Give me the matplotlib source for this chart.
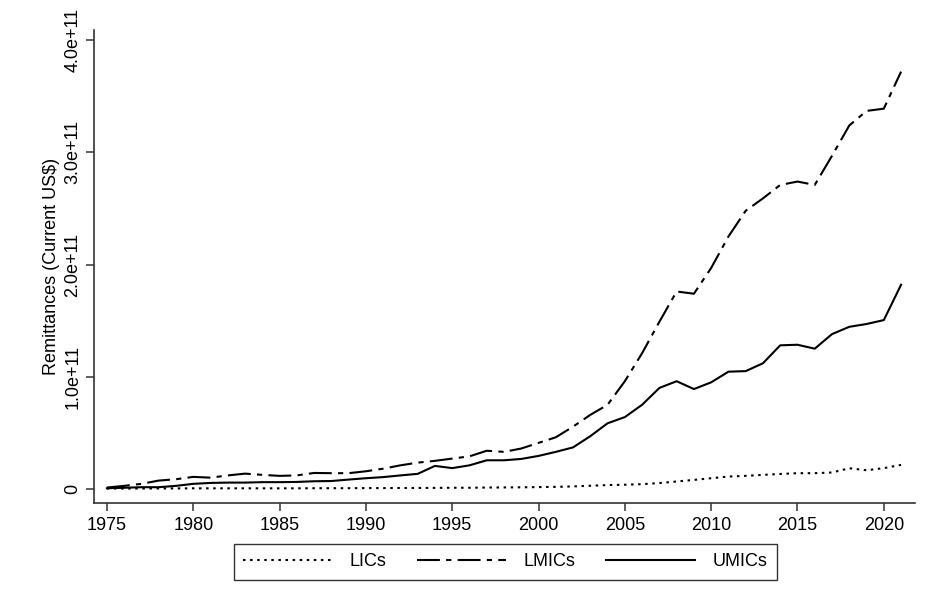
import numpy as np
import matplotlib.pyplot as plt

plt.rcParams['font.family'] = ['Liberation Sans', 'DejaVu Sans']

# Remittances by income group, current US$ (units of 1e11)
years = list(range(1975, 2022))
lics = [0.003, 0.003, 0.003, 0.004, 0.004, 0.005, 0.005, 0.005, 0.005, 0.005,
        0.005, 0.005, 0.006, 0.006, 0.006, 0.007, 0.007, 0.008, 0.008, 0.009,
        0.010, 0.010, 0.012, 0.013, 0.014, 0.016, 0.018, 0.022, 0.028, 0.034,
        0.037, 0.042, 0.052, 0.066, 0.080, 0.095, 0.110, 0.116, 0.125, 0.133,
        0.140, 0.140, 0.146, 0.184, 0.166, 0.185, 0.214]
lmics = [0.012, 0.027, 0.045, 0.074, 0.086, 0.107, 0.100, 0.120, 0.136, 0.125,
         0.116, 0.120, 0.142, 0.140, 0.140, 0.157, 0.180, 0.210, 0.234, 0.250,
         0.270, 0.290, 0.340, 0.330, 0.360, 0.410, 0.460, 0.555, 0.660, 0.750,
         0.960, 1.210, 1.490, 1.760, 1.740, 1.970, 2.250, 2.480, 2.590, 2.710,
         2.740, 2.710, 2.970, 3.240, 3.370, 3.390, 3.720]
umics = [0.006, 0.010, 0.015, 0.015, 0.027, 0.045, 0.053, 0.056, 0.056, 0.060,
         0.060, 0.062, 0.068, 0.070, 0.083, 0.095, 0.105, 0.120, 0.134, 0.205,
         0.185, 0.210, 0.255, 0.255, 0.267, 0.294, 0.330, 0.370, 0.470, 0.585,
         0.640, 0.750, 0.900, 0.960, 0.890, 0.950, 1.045, 1.050, 1.120, 1.280,
         1.285, 1.250, 1.380, 1.445, 1.470, 1.505, 1.820]

yticks = [0, 1e11, 2e11, 3e11, 4e11]
ytick_labels = ['0', '1.0e+11', '2.0e+11', '3.0e+11', '4.0e+11']

fig = plt.figure(figsize=(9.26, 6.03), dpi=100)
ax = fig.add_axes([0.1015, 0.166, 0.8865, 0.784])

scale = 1e11
ax.plot(years, np.array(lics) * scale, color='black', lw=1.5,
        linestyle=(0, (1.2, 2.2)), label='LICs')
ax.plot(years, np.array(lmics) * scale, color='black', lw=1.5,
        linestyle=(0, (11, 3, 2.5, 3)), label='LMICs')
ax.plot(years, np.array(umics) * scale, color='black', lw=1.5,
        linestyle='-', label='UMICs')

ax.set_xlim(1974.25, 2021.8)
ax.set_ylim(-0.125e11, 4.09e11)
ax.set_xticks(range(1975, 2021, 5))
ax.set_yticks(yticks)
ax.set_yticklabels(ytick_labels, rotation=90, va='center')

for s in ['top', 'right']:
    ax.spines[s].set_visible(False)
for s in ['left', 'bottom']:
    ax.spines[s].set_color('#333333')
    ax.spines[s].set_linewidth(1.2)

ax.tick_params(axis='both', direction='out', length=6, width=1.1,
               color='#333333', labelsize=13, pad=4)
ax.tick_params(axis='y', pad=3)
ax.set_ylabel('Remittances (Current US$)', fontsize=13, labelpad=3)

leg = fig.legend(loc='center', bbox_to_anchor=(0.546, 0.068), ncol=3,
                 fontsize=13, handlelength=4.9, handletextpad=1.0,
                 columnspacing=1.7, frameon=True, fancybox=False,
                 borderpad=0.5)
leg.get_frame().set_edgecolor('black')
leg.get_frame().set_linewidth(1.0)

fig.savefig('out.png', dpi=100)
